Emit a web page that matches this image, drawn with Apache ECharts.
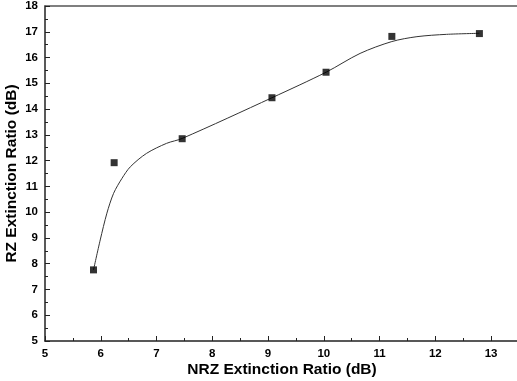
<!DOCTYPE html>
<html>
<head>
<meta charset="utf-8">
<script src="https://cdn.jsdelivr.net/npm/echarts@6/dist/echarts.min.js"></script>
<style>
  html, body { margin: 0; padding: 0; background: #fff; }
  #chart { width: 517px; height: 381px; }
</style>
</head>
<body>
<div id="chart"></div>
<script>
// measured points
const nrzRatio = [5.87, 6.24, 7.46, 9.07, 10.04, 11.22, 12.79]
const rzRatio = [7.76, 11.92, 12.85, 14.44, 15.43, 16.82, 16.93]

// fitted curve
const fitX = [5.87, 5.99, 6.11, 6.23, 6.38, 6.53, 6.82, 7.18, 7.46, 9.07, 10.04, 10.65, 11.22, 11.67, 12.2, 12.79]
const fitY = [7.76, 8.92, 9.96, 10.73, 11.31, 11.76, 12.28, 12.67, 12.86, 14.44, 15.43, 16.16, 16.62, 16.81, 16.9, 16.94]

const font = 'Liberation Sans, Arial, sans-serif'

const chart = echarts.init(document.getElementById('chart'))

chart.setOption({
  animation: false,
  grid: { left: 45, top: 6, right: -2, bottom: 40, outerBoundsMode: 'none' },
  xAxis: [
    {
      type: 'value',
      min: 5,
      max: 13.5,
      interval: 1,
      name: 'NRZ Extinction Ratio (dB)',
      nameLocation: 'middle',
      nameGap: 21,
      nameMoveOverlap: false,
      nameTextStyle: { fontFamily: font, fontWeight: 'bold', fontSize: 15.5, color: '#000' },
      axisLine: { lineStyle: { color: '#222', width: 1.5 } },
      axisTick: { inside: true, length: 5, lineStyle: { color: '#222' } },
      minorTick: { show: true, splitNumber: 2, length: 3, lineStyle: { color: '#222' } },
      axisLabel: {
        fontFamily: font, fontWeight: 'bold', fontSize: 11.5, color: '#000', margin: 7,
        formatter: v => (v > 13 ? '' : v)
      },
      splitLine: { show: false }
    },
    {
      type: 'value',
      position: 'top',
      min: 5,
      max: 13.5,
      axisLine: { show: true, lineStyle: { color: '#555', width: 1.5 } },
      axisTick: { show: false },
      axisLabel: { show: false },
      splitLine: { show: false }
    }
  ],
  yAxis: {
    type: 'value',
    min: 5,
    max: 18,
    interval: 1,
    name: 'RZ Extinction Ratio (dB)',
    nameLocation: 'middle',
    nameGap: 25,
    nameMoveOverlap: false,
    nameTextStyle: { fontFamily: font, fontWeight: 'bold', fontSize: 15.5, color: '#000' },
    axisLine: { show: true, lineStyle: { color: '#222', width: 1.5 } },
    axisTick: { inside: true, length: 5, lineStyle: { color: '#222' } },
    minorTick: { show: true, splitNumber: 2, length: 3, lineStyle: { color: '#222' } },
    axisLabel: { fontFamily: font, fontWeight: 'bold', fontSize: 11.5, color: '#000', margin: 7 },
    splitLine: { show: false }
  },
  series: [
    {
      type: 'line',
      data: fitX.map((x, i) => [x, fitY[i]]),
      smooth: 0.3,
      showSymbol: false,
      lineStyle: { color: '#333', width: 1 },
      z: 1
    },
    {
      type: 'scatter',
      data: nrzRatio.map((x, i) => [x, rzRatio[i]]),
      symbol: 'rect',
      symbolSize: 7,
      itemStyle: { color: '#000' },
      z: 2
    }
  ]
})
</script>
</body>
</html>
